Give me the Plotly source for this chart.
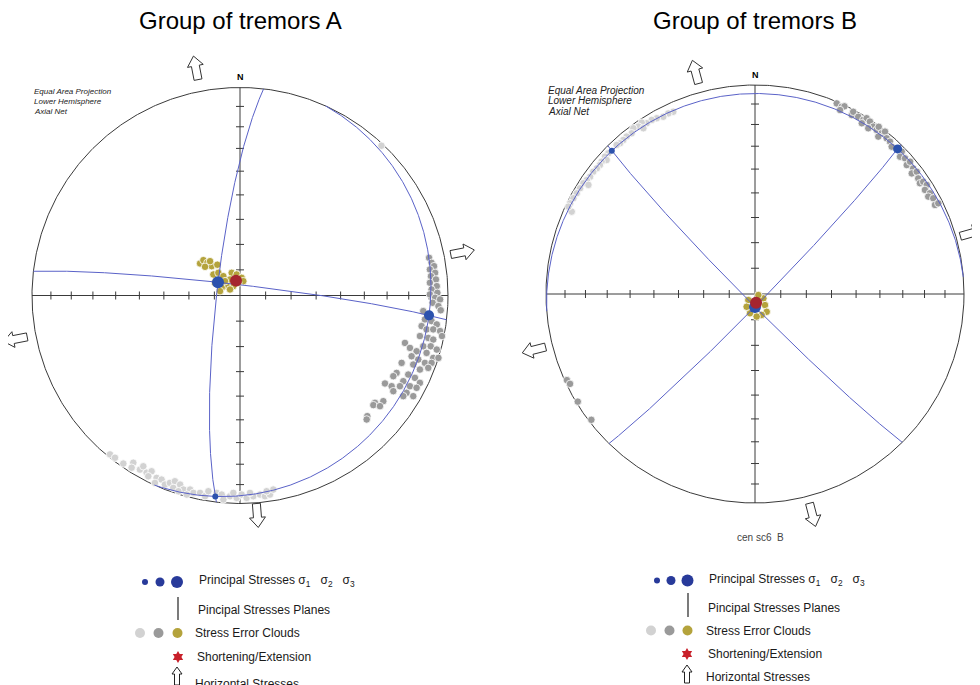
import numpy as np
import plotly.graph_objects as go

# page body has an 8px margin: figure is sized/offset so screen pixels line up
OFF = 8
SW, SH = 980, 685
W, H = SW - OFF, SH - OFF

# ---------------- data ----------------
# principal stress axes (trend, plunge in degrees): sigma1, sigma2, sigma3
A_sig_trend = [187, 96, 301]
A_sig_plunge = [3, 9.5, 80]
B_sig_trend = [315, 44.5, 180]
B_sig_plunge = [3.5, 3, 85]

# shortening/extension axis (trend, plunge)
A_short = [(345, 84)]
B_short = [(173, 86.6)]

# horizontal stress azimuths (deg) and sense (+1 outward, -1 inward)
A_hs_az = [349, 175.5, 79, 259]
A_hs_sense = [1, 1, 1, 1]
B_hs_az = [345, 165.4, 74.3, 255.8]
B_hs_sense = [1, 1, 1, 1]

# stress error clouds, equal-area projected coordinates (east, north), net radius = 1
A_cloud_s1 = [(-0.625, -0.764), (-0.601, -0.780), (-0.561, -0.808), (-0.513, -0.804), (-0.521, -0.828),
              (-0.481, -0.837), (-0.465, -0.821), (-0.449, -0.852), (-0.425, -0.845), (-0.441, -0.869),
              (-0.401, -0.877), (-0.377, -0.885), (-0.409, -0.901), (-0.361, -0.909), (-0.337, -0.901),
              (-0.313, -0.893), (-0.288, -0.909), (-0.321, -0.925), (-0.272, -0.933), (-0.296, -0.941),
              (-0.240, -0.933), (-0.224, -0.949), (-0.256, -0.957), (-0.192, -0.949), (-0.168, -0.965),
              (-0.152, -0.941), (-0.112, -0.949), (-0.088, -0.957), (-0.080, -0.981), (-0.048, -0.965),
              (-0.016, -0.973), (-0.032, -0.949), (0.008, -0.957), (0.032, -0.973), (0.064, -0.965),
              (0.048, -0.949), (0.096, -0.957), (0.120, -0.965), (0.144, -0.957), (0.160, -0.933),
              (0.128, -0.941), (0.680, 0.720)]
A_cloud_s2 = [(0.909, 0.181), (0.921, 0.157), (0.933, 0.141), (0.913, 0.125), (0.938, 0.109),
              (0.918, 0.093), (0.942, 0.077), (0.913, 0.061), (0.946, 0.045), (0.921, 0.029),
              (0.949, 0.013), (0.913, 0.005), (0.938, -0.011), (0.962, -0.019), (0.926, -0.035),
              (0.954, -0.051), (0.965, -0.071), (0.881, -0.075), (0.889, -0.115), (0.921, -0.123),
              (0.946, -0.139), (0.873, -0.147), (0.897, -0.163), (0.929, -0.163), (0.962, -0.171),
              (0.971, -0.195), (0.865, -0.195), (0.905, -0.204), (0.929, -0.212), (0.881, -0.244),
              (0.917, -0.244), (0.793, -0.228), (0.817, -0.252), (0.849, -0.268), (0.897, -0.276),
              (0.946, -0.260), (0.929, -0.300), (0.825, -0.292), (0.857, -0.308), (0.889, -0.324),
              (0.921, -0.324), (0.954, -0.300), (0.777, -0.324), (0.833, -0.332), (0.865, -0.356),
              (0.905, -0.348), (0.753, -0.372), (0.809, -0.380), (0.841, -0.396), (0.865, -0.420),
              (0.737, -0.388), (0.785, -0.412), (0.697, -0.423), (0.729, -0.436), (0.769, -0.436),
              (0.817, -0.436), (0.801, -0.468), (0.849, -0.444), (0.737, -0.460), (0.833, -0.484),
              (0.785, -0.484), (0.649, -0.516), (0.689, -0.508), (0.641, -0.527), (0.673, -0.532),
              (0.612, -0.580), (0.609, -0.596)]
A_cloud_s3 = [(-0.192, 0.154), (-0.176, 0.170), (-0.157, 0.157), (-0.136, 0.141), (-0.109, 0.148),
              (-0.168, 0.138), (-0.144, 0.165), (-0.128, 0.101), (-0.104, 0.109), (-0.080, 0.093),
              (-0.040, 0.109), (-0.016, 0.101), (0.008, 0.085), (0.016, 0.069), (-0.048, 0.077),
              (-0.008, 0.061), (-0.032, 0.045), (-0.064, 0.045), (-0.088, 0.037), (-0.096, 0.021),
              (-0.048, 0.029), (-0.120, 0.061), (-0.072, 0.069)]

B_cloud_s1 = [(-0.391, 0.872), (-0.415, 0.864), (-0.439, 0.848), (-0.470, 0.841), (-0.494, 0.833),
              (-0.518, 0.817), (-0.542, 0.820), (-0.558, 0.801), (-0.582, 0.793), (-0.534, 0.793),
              (-0.590, 0.769), (-0.614, 0.753), (-0.630, 0.737), (-0.646, 0.721), (-0.662, 0.713),
              (-0.702, 0.673), (-0.718, 0.657), (-0.710, 0.641), (-0.734, 0.633), (-0.742, 0.617),
              (-0.757, 0.601), (-0.774, 0.585), (-0.789, 0.561), (-0.805, 0.545), (-0.821, 0.530),
              (-0.797, 0.522), (-0.837, 0.506), (-0.853, 0.482), (-0.869, 0.458), (-0.885, 0.434),
              (-0.877, 0.394), (-0.893, 0.418)]
B_cloud_s2 = [(0.391, 0.912), (0.415, 0.896), (0.428, 0.898), (0.407, 0.880), (0.463, 0.856),
              (0.470, 0.872), (0.494, 0.848), (0.518, 0.833), (0.534, 0.841), (0.511, 0.817),
              (0.550, 0.825), (0.566, 0.801), (0.542, 0.793), (0.582, 0.785), (0.592, 0.800),
              (0.606, 0.769), (0.622, 0.777), (0.590, 0.753), (0.630, 0.745), (0.646, 0.729),
              (0.654, 0.705), (0.702, 0.681), (0.694, 0.657), (0.718, 0.649), (0.726, 0.617),
              (0.742, 0.633), (0.757, 0.601), (0.750, 0.577), (0.774, 0.585), (0.781, 0.553),
              (0.789, 0.530), (0.805, 0.537), (0.822, 0.522), (0.813, 0.498), (0.837, 0.482),
              (0.829, 0.466), (0.853, 0.458), (0.861, 0.426), (0.877, 0.434),
              (-0.900, -0.412), (-0.885, -0.430), (-0.848, -0.515), (-0.783, -0.602)]
B_cloud_s3 = [(-0.032, -0.029), (0.040, -0.021), (0.048, -0.053), (0.056, -0.085), (0.032, -0.100),
              (-0.024, -0.092), (0.008, -0.108), (0.016, -0.005), (-0.040, -0.061)]

TICK_PLUNGES = [10, 20, 30, 40, 50, 60, 70, 80]

# ---------------- styling / layout (screen pixel positions) ----------------
NETS = {
    "A": dict(cx=240, cy=295.5, R=208, xa="x", ya="y", dom=(0, 486),
              arrow_dist=(1.115, 1.061, 1.09, 1.10)),
    "B": dict(cx=755, cy=294, R=209, xa="x2", ya="y2", dom=(486, 972),
              arrow_dist=(1.10, 1.092, 1.078, 1.091)),
}
FONT = "Liberation Sans, Arial, sans-serif"
C_PRIM = "#3a3a3a"
C_GC = "#5a62c8"
C_SIG = "#2c52ad"
C_LEG = "#283a9a"
C_RED = "#a5252f"
C_LIGHT = "#d2d2d2"
C_DARK = "#9a9a9a"
C_OLIVE = "#b4a33c"

fig = go.Figure()


def add(net, **kw):
    fig.add_trace(go.Scatter(xaxis=net["xa"], yaxis=net["ya"], showlegend=False,
                             hoverinfo="skip", **kw))


def vec(trend, plunge):
    t, p = np.radians(trend), np.radians(plunge)
    return np.array([np.cos(p) * np.cos(t), np.cos(p) * np.sin(t), np.sin(p)])


def proj(v):
    v = np.asarray(v, float)
    v = v / np.linalg.norm(v)
    if v[2] < -1e-9:
        v = -v
    h = np.hypot(v[0], v[1])
    if h < 1e-12:
        return 0.0, 0.0
    r = np.sqrt(max(0.0, 1 - v[2]))
    return r * v[1] / h, r * v[0] / h


def great_circle(a, b):
    n = np.cross(a, b)
    n = n / np.linalg.norm(n)
    if n[2] < 0:
        n = -n
    s = np.array([-n[1], n[0], 0.0])
    s = s / np.linalg.norm(s)
    d = np.cross(n, s)
    if d[2] < 0:
        d = -d
    th = np.linspace(0, np.pi, 721)
    pts = [proj(np.cos(t) * s + np.sin(t) * d) for t in th]
    return [p[0] for p in pts], [p[1] for p in pts]


def pix(net, px, py):
    return (px - net["cx"]) / net["R"], (net["cy"] - py) / net["R"]


def arrow_poly(net, cxp, cyp, az, length, head_w, shaft_w, head_l):
    """block arrow centred at data point (cxp,cyp), pointing toward azimuth az; sizes in px"""
    R = net["R"]
    u = np.array([np.sin(np.radians(az)), np.cos(np.radians(az))])
    v = np.array([u[1], -u[0]])
    L, hw, sw, hl = length / R / 2, head_w / R / 2, shaft_w / R / 2, head_l / R
    local = [(-L, -sw), (L - hl, -sw), (L - hl, -hw), (L, 0), (L - hl, hw), (L - hl, sw), (-L, sw), (-L, -sw)]
    xs = [cxp + a * u[0] + b * v[0] for a, b in local]
    ys = [cyp + a * u[1] + b * v[1] for a, b in local]
    return xs, ys


def draw_net(net, sig_t, sig_p, short, clouds, hs_az, hs_sense, sig_sizes):
    R = net["R"]
    th = np.linspace(0, 2 * np.pi, 721)
    add(net, x=np.cos(th), y=np.sin(th), mode="lines", line=dict(color=C_PRIM, width=1))
    add(net, x=[-1, 1, None, 0, 0], y=[0, 0, None, -1, 1], mode="lines",
        line=dict(color=C_PRIM, width=1))
    tl = 4 / R
    tx, ty = [], []
    for p in TICK_PLUNGES:
        r = np.sqrt(1 - np.sin(np.radians(p)))
        for sgn in (-1, 1):
            tx += [sgn * r, sgn * r, None, -tl, tl, None]
            ty += [-tl, tl, None, sgn * r, sgn * r, None]
    add(net, x=tx, y=ty, mode="lines", line=dict(color=C_PRIM, width=1))
    # clouds
    for pts, col in zip(clouds, (C_LIGHT, C_DARK, C_OLIVE)):
        add(net, x=[p[0] for p in pts], y=[p[1] for p in pts], mode="markers",
            marker=dict(size=7.5, color=col, line=dict(color="white", width=0.8)))
    # principal planes
    vs = [vec(t, p) for t, p in zip(sig_t, sig_p)]
    for i, j in ((0, 1), (0, 2), (1, 2)):
        gx, gy = great_circle(vs[i], vs[j])
        add(net, x=gx, y=gy, mode="lines", line=dict(color=C_GC, width=1))
    # principal stresses
    for v, s in zip(vs, sig_sizes):
        x, y = proj(v)
        add(net, x=[x], y=[y], mode="markers", marker=dict(size=s, color=C_SIG))
    for t, p in short:
        x, y = proj(vec(t, p))
        add(net, x=[x], y=[y], mode="markers", marker=dict(size=12, color=C_RED))
    # horizontal stress arrows
    for az, sense, d in zip(hs_az, hs_sense, net["arrow_dist"]):
        cxp, cyp = d * np.sin(np.radians(az)), d * np.cos(np.radians(az))
        paz = az if sense > 0 else az + 180
        ax, ay = arrow_poly(net, cxp, cyp, paz, 24, 16, 8, 10)
        add(net, x=ax, y=ay, mode="lines", fill="toself", fillcolor="white",
            line=dict(color="#333333", width=1))


draw_net(NETS["A"], A_sig_trend, A_sig_plunge, A_short, (A_cloud_s1, A_cloud_s2, A_cloud_s3),
         A_hs_az, A_hs_sense, (6, 10, 12))
draw_net(NETS["B"], B_sig_trend, B_sig_plunge, B_short, (B_cloud_s1, B_cloud_s2, B_cloud_s3),
         B_hs_az, B_hs_sense, (6, 9, 12))

annotations = []


def txt(px, py, text, size, color="#1a1a1a", anchor="left", **kw):
    annotations.append(dict(x=(px - OFF) / W, y=1 - (py - OFF) / H, xref="paper", yref="paper", text=text,
                            showarrow=False, xanchor=anchor, yanchor="middle",
                            font=dict(family=FONT, size=size, color=color), **kw))


# titles
txt(240, 20, "Group of tremors A", 24, color="#000", anchor="center")
txt(755, 20, "Group of tremors B", 24, color="#000", anchor="center")
# projection labels
for (x0, ys, sz) in ((32, (91, 101, 111.5), 8), (546, (90.5, 100.8, 111.5), 10)):
    for yy, t in zip(ys, ("Equal Area Projection", "Lower Hemisphere", "Axial Net")):
        txt(x0, yy, "<i>" + t + "</i>", sz, color="#222")
txt(240, 77, "<b>N</b>", 9, color="#000", anchor="center")
txt(755, 75, "<b>N</b>", 9, color="#000", anchor="center")
txt(760, 537, "cen sc6\u00a0 B", 10, color="#444", anchor="center")

# legends
sigtxt = "Principal Stresses \u03c3<sub>1</sub>\u00a0\u00a0 \u03c3<sub>2</sub>\u00a0\u00a0 \u03c3<sub>3</sub>"
LEG = {
    "A": dict(dots=((145, 582, 6), (160, 582, 9), (177, 582, 12)), t1=(197, 581),
              line=(178, 597, 620), t2=(196, 610), clouds=((140, 633), (158.5, 633), (177.5, 633)),
              t3=(193, 633), star=(178, 657), t4=(195, 657), arrow=(177, 676), t5=(193, 684)),
    "B": dict(dots=((657, 580.5, 6), (671, 580.5, 9), (687.5, 580.5, 12)), t1=(707, 579.5),
              line=(688, 593, 617), t2=(706, 608), clouds=((651, 630.5), (669.5, 630.5), (687.5, 630.5)),
              t3=(704, 630.5), star=(687, 654), t4=(706, 654), arrow=(687, 674), t5=(704, 677)),
}
for key, lg in LEG.items():
    net = NETS[key]
    for px, py, s in lg["dots"]:
        x, y = pix(net, px, py)
        add(net, x=[x], y=[y], mode="markers", marker=dict(size=s, color=C_LEG))
    txt(*lg["t1"], sigtxt, 12)
    lx, ly0, ly1 = lg["line"]
    x, y0 = pix(net, lx, ly0)
    _, y1 = pix(net, lx, ly1)
    add(net, x=[x, x], y=[y0, y1], mode="lines", line=dict(color="#222", width=1.2))
    txt(*lg["t2"], "Pincipal Stresses Planes", 12)
    for (px, py), col in zip(lg["clouds"], (C_LIGHT, C_DARK, C_OLIVE)):
        x, y = pix(net, px, py)
        add(net, x=[x], y=[y], mode="markers", marker=dict(size=10, color=col))
    txt(*lg["t3"], "Stress Error Clouds", 12)
    x, y = pix(net, *lg["star"])
    add(net, x=[x], y=[y], mode="markers", marker=dict(size=9, color="#c8202a", symbol="hexagram"))
    txt(*lg["t4"], "Shortening/Extension", 12)
    x, y = pix(net, *lg["arrow"])
    ax, ay = arrow_poly(net, x, y, 0, 18, 10, 5, 7)
    add(net, x=ax, y=ay, mode="lines", line=dict(color="#222", width=1))
    txt(*lg["t5"], "Horizontal Stresses", 12)

layout = dict(width=W, height=H, margin=dict(l=0, r=0, t=0, b=0), paper_bgcolor="white",
              plot_bgcolor="white", showlegend=False, annotations=annotations)
for i, (key, net) in enumerate(NETS.items()):
    sfx = "" if i == 0 else str(i + 1)
    d0, d1 = net["dom"]
    fcx, fcy = net["cx"] - OFF, net["cy"] - OFF
    layout["xaxis" + sfx] = dict(domain=[d0 / W, d1 / W], range=[(d0 - fcx) / net["R"], (d1 - fcx) / net["R"]],
                                 visible=False, fixedrange=True, anchor="y" + sfx)
    layout["yaxis" + sfx] = dict(domain=[0, 1], range=[(fcy - H) / net["R"], fcy / net["R"]],
                                 visible=False, fixedrange=True, anchor="x" + sfx)
fig.update_layout(**layout)
fig.write_html("out.html")
